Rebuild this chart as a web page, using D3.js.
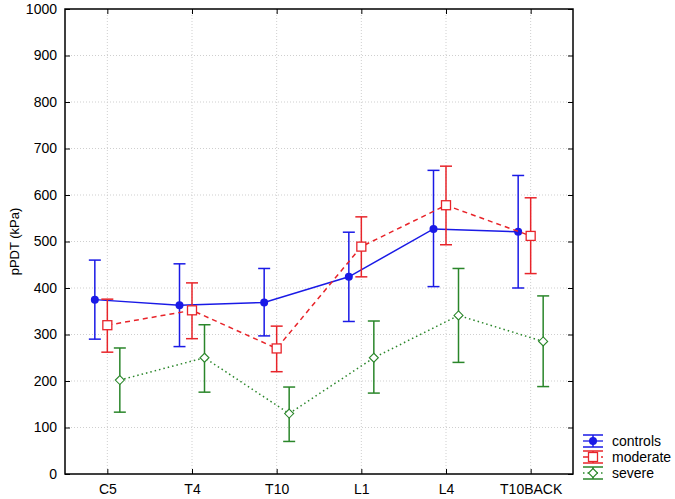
<!DOCTYPE html>
<html>
<head>
<meta charset="utf-8">
<style>
body { margin: 0; background: #fff; }
text { font-family: "Liberation Sans", Arial, sans-serif; }
</style>
</head>
<body>
<svg width="675" height="499"></svg>
<script src="https://d3js.org/d3.v7.min.js"></script>
<script>
var sites = ["C5", "T4", "T10", "L1", "L4", "T10BACK"];
var yTicks = [0, 100, 200, 300, 400, 500, 600, 700, 800, 900, 1000];

var controlsMean = [375, 363, 369, 424, 527, 521];
var controlsHi   = [460, 452, 442, 520, 653, 642];
var controlsLo   = [290, 274, 297, 328, 403, 400];

var moderateMean = [320, 352, 270, 489, 578, 512];
var moderateHi   = [376, 411, 318, 553, 662, 594];
var moderateLo   = [262, 291, 220, 424, 493, 431];

var severeMean = [202, 250, 130, 250, 341, 285];
var severeHi   = [271, 321, 187, 329, 442, 383];
var severeLo   = [133, 176, 70, 174, 240, 188];

var series = [
  {name: "controls", mean: controlsMean, hi: controlsHi, lo: controlsLo,
   color: "#1a1ae6", dash: null, shape: "dot", shift: -12.5},
  {name: "moderate", mean: moderateMean, hi: moderateHi, lo: moderateLo,
   color: "#e8242a", dash: "5,4", shape: "square", shift: 0},
  {name: "severe", mean: severeMean, hi: severeHi, lo: severeLo,
   color: "#2a862a", dash: "1.5,3", shape: "diamond", shift: 12.5}
];

var svg = d3.select("svg"),
    margin = {top: 9, right: 102, bottom: 25, left: 65},
    width = 675 - margin.left - margin.right,
    height = 499 - margin.top - margin.bottom;

var g = svg.append("g").attr("transform", "translate(" + margin.left + "," + margin.top + ")");

var x = d3.scalePoint().domain(sites).range([0, width]).padding(0.5);
var y = d3.scaleLinear().domain([0, 1000]).range([height, 0]);

// grid
g.append("g").selectAll("line").data(yTicks.slice(1, -1)).enter().append("line")
  .attr("x1", 0).attr("x2", width)
  .attr("y1", function(d) { return y(d); }).attr("y2", function(d) { return y(d); })
  .attr("stroke", "#cfcfcf").attr("stroke-dasharray", "1,2");
g.append("g").selectAll("line").data(sites).enter().append("line")
  .attr("y1", 0).attr("y2", height)
  .attr("x1", function(d) { return x(d); }).attr("x2", function(d) { return x(d); })
  .attr("stroke", "#cfcfcf").attr("stroke-dasharray", "1,2");

// axes (ticks point inward)
function styleAxis(sel) {
  sel.select(".domain").remove();
  sel.selectAll("line").attr("stroke", "#000");
  sel.selectAll("text").attr("font-size", 14).attr("fill", "#000");
}
g.append("g").call(d3.axisLeft(y).tickValues(yTicks).tickFormat(d3.format("d"))
    .tickSizeInner(-5).tickSizeOuter(0).tickPadding(8))
  .call(styleAxis);
g.append("g").attr("transform", "translate(" + width + ",0)")
  .call(d3.axisRight(y).tickValues(yTicks).tickSizeInner(-5).tickSizeOuter(0).tickFormat(""))
  .call(styleAxis);
g.append("g").attr("transform", "translate(0," + height + ")")
  .call(d3.axisBottom(x).tickSizeInner(-5).tickSizeOuter(0).tickPadding(10))
  .call(styleAxis);
g.append("g")
  .call(d3.axisTop(x).tickSizeInner(-5).tickSizeOuter(0).tickFormat(""))
  .call(styleAxis);

g.append("rect").attr("width", width).attr("height", height)
  .attr("fill", "none").attr("stroke", "#000").attr("stroke-width", 1.5);

svg.append("text")
  .attr("transform", "translate(19," + (margin.top + height / 2) + ") rotate(-90)")
  .attr("text-anchor", "middle")
  .attr("font-size", 13)
  .text("pPDT (kPa)");

function marker(sel, s) {
  if (s.shape === "dot") {
    sel.append("circle").attr("r", 4).attr("fill", s.color);
  } else if (s.shape === "square") {
    sel.append("rect").attr("x", -4.5).attr("y", -4.5).attr("width", 9).attr("height", 9)
      .attr("fill", "#fff").attr("stroke", s.color).attr("stroke-width", 1.3);
  } else {
    sel.append("path").attr("d", "M0,-4.5L4.5,0L0,4.5L-4.5,0Z")
      .attr("fill", "#fff").attr("stroke", s.color).attr("stroke-width", 1.1);
  }
}

series.forEach(function(s) {
  var sg = g.append("g");
  var px = function(i) { return x(sites[i]) + s.shift; };

  var line = d3.line()
    .x(function(d, i) { return px(i); })
    .y(function(d) { return y(d); });
  sg.append("path").datum(s.mean)
    .attr("fill", "none").attr("stroke", s.color)
    .attr("stroke-width", 1.5)
    .attr("stroke-dasharray", s.dash)
    .attr("d", line);

  sites.forEach(function(c, i) {
    var eb = sg.append("g").attr("stroke", s.color).attr("stroke-width", 1.5);
    eb.append("line").attr("x1", px(i)).attr("x2", px(i))
      .attr("y1", y(s.hi[i])).attr("y2", y(s.lo[i]));
    eb.append("line").attr("x1", px(i) - 6).attr("x2", px(i) + 6)
      .attr("y1", y(s.hi[i])).attr("y2", y(s.hi[i]));
    eb.append("line").attr("x1", px(i) - 6).attr("x2", px(i) + 6)
      .attr("y1", y(s.lo[i])).attr("y2", y(s.lo[i]));
    var m = sg.append("g").attr("transform", "translate(" + px(i) + "," + y(s.mean[i]) + ")");
    marker(m, s);
  });
});

// legend
var legend = svg.append("g").attr("transform", "translate(583,441)");
series.forEach(function(s, i) {
  var lg = legend.append("g").attr("transform", "translate(0," + (i * 16) + ")");
  lg.append("line").attr("x1", 0).attr("x2", 20).attr("y1", -6).attr("y2", -6)
    .attr("stroke", s.color).attr("stroke-width", 1.5);
  lg.append("line").attr("x1", 0).attr("x2", 20).attr("y1", 6).attr("y2", 6)
    .attr("stroke", s.color).attr("stroke-width", 1.5);
  lg.append("line").attr("x1", 0).attr("x2", 20).attr("y1", 0).attr("y2", 0)
    .attr("stroke", s.color).attr("stroke-width", 1.3).attr("stroke-dasharray", s.dash);
  lg.append("line").attr("x1", 10).attr("x2", 10).attr("y1", -6).attr("y2", 6)
    .attr("stroke", s.color).attr("stroke-width", 1.5);
  var m = lg.append("g").attr("transform", "translate(10,0)");
  marker(m, s);
  lg.append("text").attr("x", 29).attr("y", 0).attr("dy", "0.35em")
    .attr("font-size", 14).text(s.name);
});
</script>
</body>
</html>
